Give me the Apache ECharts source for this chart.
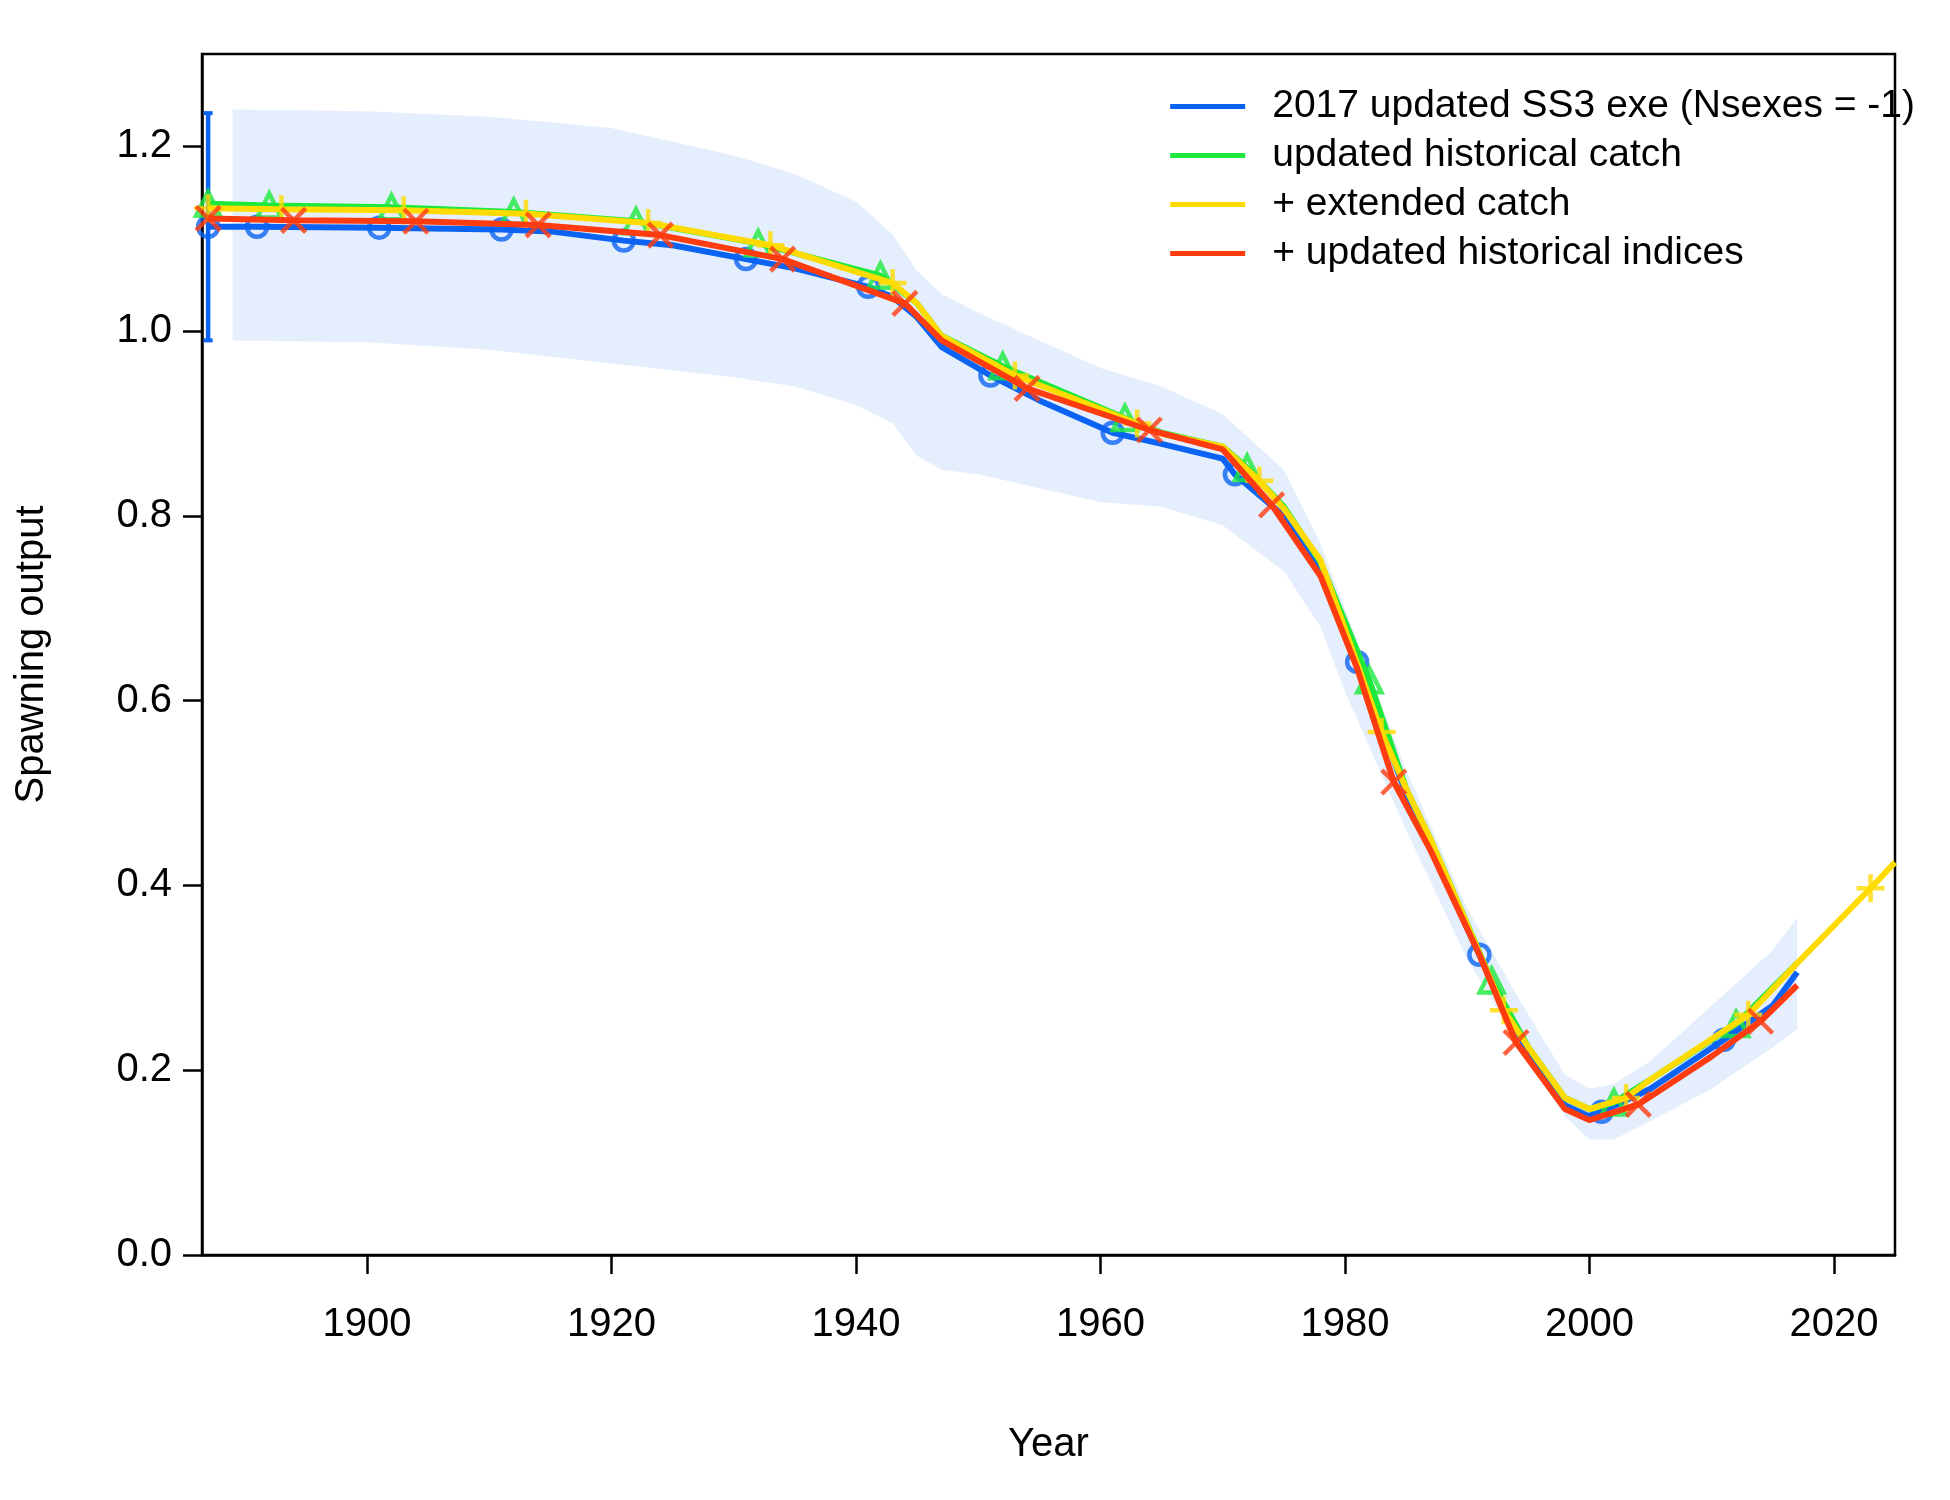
<!DOCTYPE html>
<html>
<head>
<meta charset="utf-8">
<script src="https://cdn.jsdelivr.net/npm/echarts@6/dist/echarts.min.js"></script>
<style>html,body{margin:0;padding:0;background:#fff}#chart{width:1950px;height:1500px}</style>
</head>
<body>
<div id="chart"></div>
<script>
// series names
const seriesNames = ['2017 updated SS3 exe (Nsexes = -1)', 'updated historical catch', '+ extended catch', '+ updated historical indices'];
const seriesColors = ['#0a63f2', '#1de83c', '#ffdb00', '#ff3c0f'];

const blueYears = [1887,1891,1901,1911,1915,1921,1925,1931,1935,1941,1943,1945,1947,1951,1955,1961,1965,1970,1971,1975,1978,1981,1983,1985,1987,1991,1993,1995,1998,2000,2001,2005,2011,2015,2017];
const blueVals  = [1.113,1.113,1.112,1.110,1.108,1.098,1.093,1.078,1.068,1.048,1.037,1.015,0.983,0.952,0.925,0.890,0.878,0.862,0.845,0.800,0.740,0.642,0.570,0.500,0.440,0.325,0.270,0.220,0.162,0.150,0.155,0.180,0.233,0.270,0.306];

const greenYears = [1887,1892,1902,1912,1922,1932,1942,1945,1947,1952,1962,1965,1970,1972,1975,1978,1982,1985,1987,1992,1995,1998,2000,2002,2005,2012,2017];
const greenVals  = [1.138,1.136,1.134,1.129,1.119,1.095,1.060,1.030,0.995,0.962,0.906,0.890,0.875,0.852,0.810,0.750,0.622,0.505,0.450,0.297,0.225,0.170,0.158,0.165,0.190,0.250,0.316];

const yellowYears = [1887,1893,1903,1913,1923,1933,1943,1945,1947,1953,1963,1965,1970,1973,1975,1978,1983,1985,1987,1993,1995,1998,2000,2003,2005,2013,2017,2023,2025];
const yellowVals  = [1.133,1.132,1.131,1.127,1.117,1.093,1.052,1.030,0.995,0.952,0.900,0.889,0.875,0.838,0.808,0.752,0.566,0.505,0.450,0.265,0.225,0.170,0.158,0.170,0.190,0.260,0.316,0.397,0.425];

const redYears = [1887,1894,1904,1914,1924,1934,1944,1947,1954,1964,1970,1974,1978,1981,1984,1987,1991,1994,1998,2000,2004,2010,2014,2017];
const redVals  = [1.122,1.120,1.119,1.115,1.104,1.078,1.030,0.990,0.938,0.893,0.872,0.812,0.735,0.635,0.512,0.438,0.325,0.230,0.158,0.146,0.163,0.215,0.253,0.292];

const markerYears = [
  [1887,1891,1901,1911,1921,1931,1941,1951,1961,1971,1981,1991,2001,2011],
  [1887,1892,1902,1912,1922,1932,1942,1952,1962,1972,1982,1992,2002,2012],
  [1887,1893,1903,1913,1923,1933,1943,1953,1963,1973,1983,1993,2003,2013,2023],
  [1887,1894,1904,1914,1924,1934,1944,1954,1964,1974,1984,1994,2004,2014]
];

const bandYears = [1889,1900,1910,1920,1930,1935,1940,1943,1945,1947,1950,1955,1960,1965,1970,1975,1978,1980,1985,1990,1995,1998,2000,2002,2005,2010,2015,2017];
const bandUpper = [1.240,1.238,1.232,1.220,1.190,1.170,1.140,1.105,1.065,1.040,1.020,0.990,0.960,0.940,0.910,0.850,0.770,0.700,0.525,0.375,0.260,0.195,0.180,0.185,0.210,0.270,0.330,0.365];
const bandLower = [0.990,0.988,0.980,0.965,0.950,0.940,0.920,0.900,0.865,0.850,0.845,0.830,0.815,0.810,0.790,0.740,0.680,0.610,0.460,0.320,0.210,0.150,0.125,0.125,0.145,0.180,0.225,0.245];

const errYear = 1887;
const errRange = [0.99, 1.236];

const xTicks = [1900, 1920, 1940, 1960, 1980, 2000, 2020];
const yTicks = [0, 0.2, 0.4, 0.6, 0.8, 1.0, 1.2];

const years = [blueYears, greenYears, yellowYears, redYears];
const vals = [blueVals, greenVals, yellowVals, redVals];
const symbols = [
  'circle',
  'path://M5,0L10,9L0,9Z',
  'path://M5,0L5,10M0,5L10,5',
  'path://M0,0L10,10M10,0L0,10'
];
const symSizes = [20, 24, 28, 24];

const chart = echarts.init(document.getElementById('chart'));
const series = [];

// confidence band as one polygon
series.push({
  type: 'custom', silent: true, z: 1,
  data: [0],
  renderItem: function(params, api) {
    const pts = [];
    bandYears.forEach((y, i) => pts.push(api.coord([y, bandUpper[i]])));
    for (let i = bandYears.length - 1; i >= 0; i--) pts.push(api.coord([bandYears[i], bandLower[i]]));
    return { type: 'polygon', shape: { points: pts }, style: { fill: '#e5eefc' } };
  }
});
series.push({
  type: 'line', symbol: 'rect', symbolSize: [9, 4], silent: true, z: 2,
  itemStyle: { color: seriesColors[0] },
  lineStyle: { color: seriesColors[0], width: 4.5 },
  data: [[errYear, errRange[0]], [errYear, errRange[1]]]
});

seriesNames.forEach((name, k) => {
  series.push({
    name: name, type: 'line', symbol: 'none', z: 3 + k,
    lineStyle: { color: seriesColors[k], width: 6 },
    itemStyle: { color: seriesColors[k] },
    data: years[k].map((y, i) => [y, vals[k][i]])
  });
  series.push({
    type: 'scatter', z: 3 + k, symbol: symbols[k], symbolSize: symSizes[k],
    itemStyle: { color: 'transparent', borderColor: seriesColors[k], borderWidth: 4.5 },
    data: markerYears[k].map(y => [y, vals[k][years[k].indexOf(y)]])
  });
});

chart.setOption({
  animation: false,
  textStyle: { fontFamily: 'Liberation Sans, Arial, sans-serif' },
  grid: { left: 202, right: 55, top: 54, bottom: 245, show: true, borderColor: '#000', borderWidth: 2.5, backgroundColor: 'transparent' },
  legend: {
    data: seriesNames, right: 30, top: 82, orient: 'vertical', itemGap: 10,
    itemWidth: 75, itemHeight: 5, icon: 'rect',
    textStyle: { fontSize: 39, color: '#000', padding: [0, 0, 0, 22] }
  },
  xAxis: {
    type: 'value', min: 1886.5, max: 2025,
    name: 'Year', nameLocation: 'middle', nameGap: 170,
    nameTextStyle: { fontSize: 40, color: '#000' },
    splitLine: { show: false },
    axisLine: { lineStyle: { color: '#000', width: 2.5 } },
    axisTick: { length: 19, lineStyle: { color: '#000', width: 2.5 }, customValues: xTicks },
    axisLabel: { fontSize: 40, color: '#000', margin: 50, formatter: v => String(v), customValues: xTicks }
  },
  yAxis: {
    type: 'value', min: 0, max: 1.3,
    name: 'Spawning output', nameLocation: 'middle', nameGap: 150,
    nameTextStyle: { fontSize: 40, color: '#000' },
    splitLine: { show: false },
    axisLine: { show: true, lineStyle: { color: '#000', width: 2.5 } },
    axisTick: { show: true, length: 19, lineStyle: { color: '#000', width: 2.5 }, customValues: yTicks },
    axisLabel: { fontSize: 40, color: '#000', margin: 30, formatter: v => v.toFixed(1), customValues: yTicks }
  },
  series: series
});
</script>
</body>
</html>
